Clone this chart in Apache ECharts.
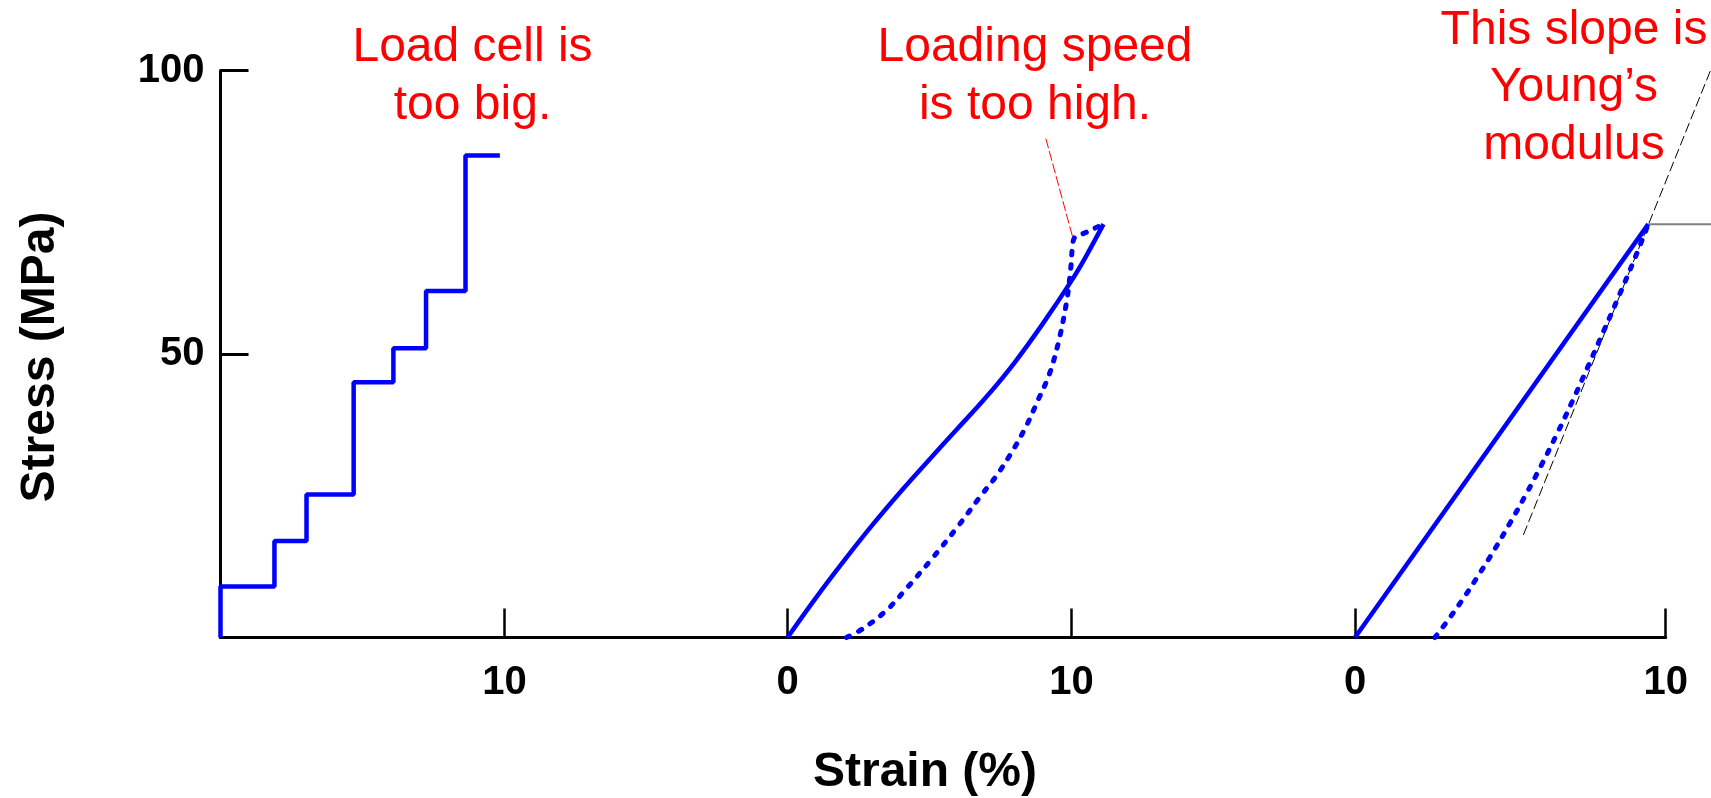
<!DOCTYPE html>
<html>
<head>
<meta charset="utf-8">
<title>Stress - Strain</title>
<script src="https://cdn.jsdelivr.net/npm/echarts@6.0.0/dist/echarts.min.js"></script>
<style>
  html, body { margin: 0; padding: 0; background: #fff; }
  #main { width: 1711px; height: 798px; }
</style>
</head>
<body>
<div id="main"></div>
<script>
// ---- data ----
// panel 1: load cell too big (staircase)
var stepStrain = [0, 0, 1.9, 3.03, 4.69, 6.09, 7.24, 8.63, 9.84];
var stepStress = [0, 9, 17, 25.2, 45, 51, 61.1, 85, 85];

// panel 2: loading speed too high
var speedSolidStrain = [0, 1, 2, 3, 4, 5, 6, 7, 8, 9, 10, 10.5, 11.13];
var speedSolidStress = [0, 7.0, 13.6, 19.9, 25.8, 31.4, 36.9, 42.4, 48.5, 55.4, 62.9, 67.1, 72.9];
var speedDotStrain = [2.08, 2.67, 3.49, 4.2, 5.14, 6.08, 6.78, 7.37, 7.95, 8.43, 8.8, 9.22, 9.56, 9.84, 9.98, 10.04, 10.12, 10.4, 10.75, 11.13];
var speedDotStress = [0, 1.6, 4.8, 8.7, 14.2, 20.1, 24.8, 28.6, 33.1, 37.5, 41.6, 46.4, 52.4, 59.5, 65.3, 69.0, 70.6, 71.2, 72.0, 72.9];
var leaderStrain = [9.1, 10.04];
var leaderStress = [88, 70.7];

// panel 3: Young's modulus
var youngSolidStrain = [0, 9.44];
var youngSolidStress = [0, 72.9];
var youngDotStrain = [2.57, 3, 3.5, 4, 4.5, 5, 5.5, 6, 6.5, 7, 7.5, 8, 8.5, 9, 9.44];
var youngDotStress = [0, 3.1, 7.0, 11.2, 15.6, 20.3, 25.2, 30.4, 35.9, 41.7, 47.8, 54.0, 60.3, 66.8, 72.9];
var tangentStrain = [5.42, 11.5];
var tangentStress = [18.1, 100.8];
var levelStrain = [9.44, 11.5];
var levelStress = [72.9, 72.9];

// ticks
var stressTicks = [50, 100];
var strainTicks1 = [10];
var strainTicks2 = [0, 10];
var strainTicks3 = [0, 10];

// ---- layout (pixels) ----
var FONT = '"Liberation Sans", Arial, sans-serif';
var plotTop = 70.5, plotBottom = 637.5;
var pxUnit12 = 28.39, pxUnit3 = 31.07, pxStress = (plotBottom - plotTop) / 100;
var zero1 = 220.5, zero2 = 787.5, zero3 = 1355;
var cut12 = 646, cut23 = 1200, lap = 3;
var axisEnd = zero3 + 10 * pxUnit3;
var pageW = 1711;

function zip(xs, ys) {
  return xs.map(function (x, i) { return [x, ys[i]]; });
}

function strainAxis(gi, min, max, ticks) {
  return {
    type: 'value', gridIndex: gi, min: min, max: max, show: !!ticks,
    axisLine: { show: true, onZero: false, lineStyle: { color: '#000', width: 3 } },
    axisTick: { show: true, inside: true, length: 29, customValues: ticks, lineStyle: { color: '#000', width: 2.5 } },
    axisLabel: { show: true, customValues: ticks, margin: 25, color: '#000', fontSize: 40, fontWeight: 'bold', fontFamily: FONT },
    splitLine: { show: false }
  };
}

function stressAxis(gi, visible, max) {
  return {
    type: 'value', gridIndex: gi, min: 0, max: max || 100, show: visible,
    axisLine: { show: true, onZero: false, lineStyle: { color: '#000', width: 3 } },
    axisTick: { show: true, inside: true, length: 28, customValues: stressTicks, lineStyle: { color: '#000', width: 3 } },
    axisLabel: { show: true, customValues: stressTicks, margin: 16, color: '#000', fontSize: 40, fontWeight: 'bold', fontFamily: FONT },
    splitLine: { show: false }
  };
}

function curve(gi, xs, ys, style, smooth) {
  return {
    type: 'line', xAxisIndex: gi, yAxisIndex: gi,
    data: zip(xs, ys), symbol: 'none', smooth: smooth || false,
    clip: false, lineStyle: style, silent: true
  };
}

var blue = '#0000ff';
var solid = { color: blue, width: 4.5 };
var dotted = { color: blue, width: 5, type: [3.5, 10], cap: 'round' };

function redText(x, y, txt) {
  return {
    type: 'text', x: x, y: y, silent: true,
    style: {
      text: txt, fill: '#ff0000', font: '48px ' + FONT, lineHeight: 57.5,
      align: 'center', verticalAlign: 'middle', textAlign: 'center', textVerticalAlign: 'middle'
    }
  };
}

var myChart = echarts.init(document.getElementById('main'), null, { renderer: 'canvas' });

// panel edges in pixels; neighbouring panels overlap a little so the x axis reads as one line
var edges = [
  [zero1, cut12 + lap],
  [cut12 - lap, cut23 + lap],
  [cut23 - lap, axisEnd],
  [cut23 - lap, pageW]
];
var plotH = plotBottom - plotTop;
var grids = [
  { left: edges[0][0], top: plotTop, width: edges[0][1] - edges[0][0], height: plotH, outerBoundsMode: 'none' },
  { left: edges[1][0], top: plotTop, width: edges[1][1] - edges[1][0], height: plotH, outerBoundsMode: 'none' },
  { left: edges[2][0], top: plotTop, width: edges[2][1] - edges[2][0], height: plotH, outerBoundsMode: 'none' },
  // overlay for the guide lines that run past the last tick, same scale as panel 3
  { left: edges[3][0], top: 0, width: edges[3][1] - edges[3][0], height: plotBottom, outerBoundsMode: 'none' }
];

var option = {
  animation: false,
  backgroundColor: '#fff',
  grid: grids,
  xAxis: [
    strainAxis(0, 0, (edges[0][1] - zero1) / pxUnit12, strainTicks1),
    strainAxis(1, (edges[1][0] - zero2) / pxUnit12, (edges[1][1] - zero2) / pxUnit12, strainTicks2),
    strainAxis(2, (edges[2][0] - zero3) / pxUnit3, 10, strainTicks3),
    strainAxis(3, (edges[3][0] - zero3) / pxUnit3, (edges[3][1] - zero3) / pxUnit3, null)
  ],
  yAxis: [
    stressAxis(0, true),
    stressAxis(1, false),
    stressAxis(2, false),
    stressAxis(3, false, plotBottom / pxStress)
  ],
  series: [
    // panel 1
    Object.assign(curve(0, stepStrain, stepStress, solid), { step: 'end' }),
    // panel 2
    curve(1, speedSolidStrain, speedSolidStress, solid, 0.4),
    curve(1, speedDotStrain, speedDotStress, dotted, 0.35),
    curve(1, leaderStrain, leaderStress, { color: '#ff0000', width: 1, type: [10, 3] }),
    // panel 3
    curve(3, tangentStrain, tangentStress, { color: '#000', width: 1, type: [10, 4] }),
    curve(3, levelStrain, levelStress, { color: '#7f7f7f', width: 2 }),
    curve(2, youngSolidStrain, youngSolidStress, solid),
    curve(2, youngDotStrain, youngDotStress, dotted, 0.4)
  ],
  graphic: [
    {
      type: 'text', x: 41, y: 357, rotation: Math.PI / 2, silent: true,
      style: { text: 'Stress (MPa)', fill: '#000', font: 'bold 48px ' + FONT,
        align: 'center', verticalAlign: 'middle', textAlign: 'center', textVerticalAlign: 'middle' }
    },
    {
      type: 'text', x: 925, y: 773, silent: true,
      style: { text: 'Strain (%)', fill: '#000', font: 'bold 48px ' + FONT,
        align: 'center', verticalAlign: 'middle', textAlign: 'center', textVerticalAlign: 'middle' }
    },
    redText(472.5, 77, 'Load cell is\ntoo big.'),
    redText(1035, 77, 'Loading speed\nis too high.'),
    redText(1574, 88, 'This slope is\nYoung\u2019s\nmodulus')
  ]
};

myChart.setOption(option);
</script>
</body>
</html>
